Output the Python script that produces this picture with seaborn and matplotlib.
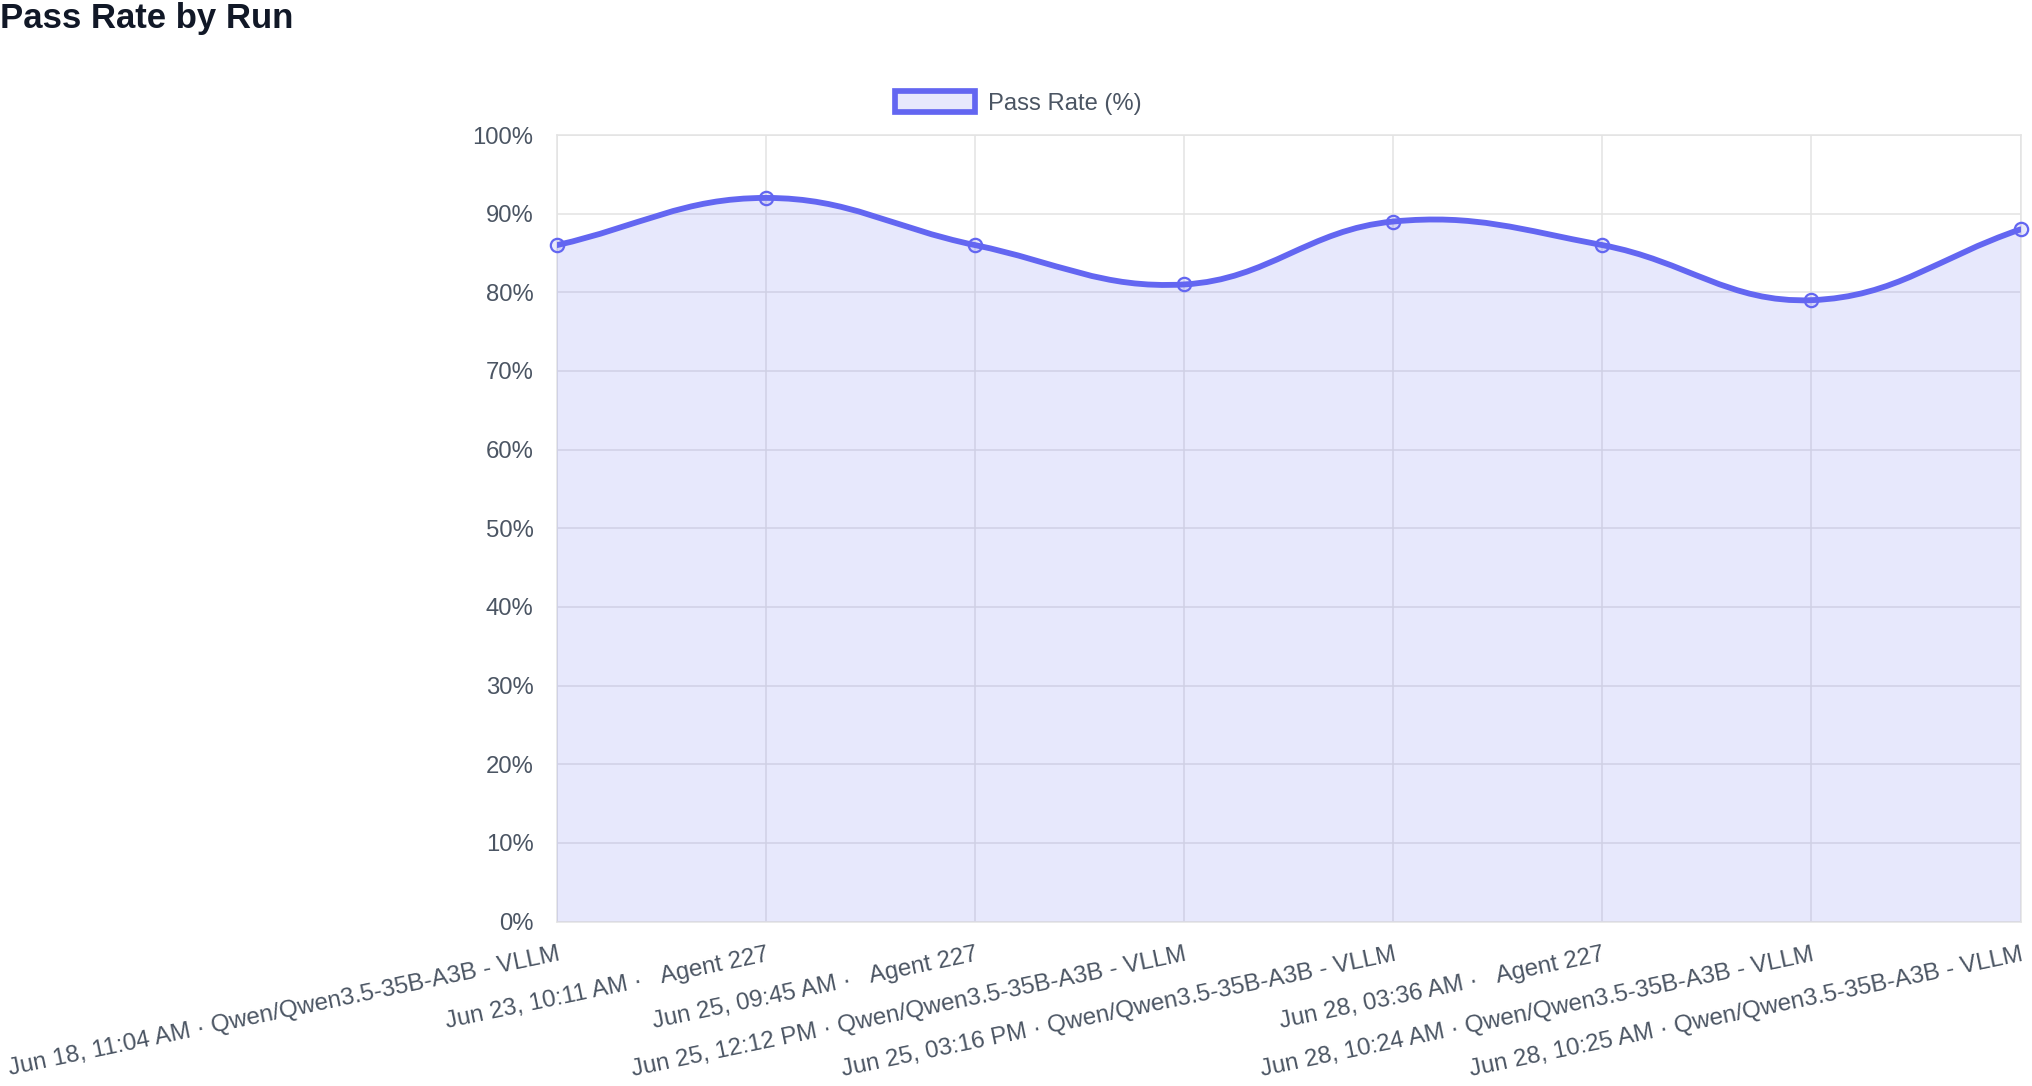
import numpy as np
import pandas as pd
import seaborn as sns
import matplotlib.pyplot as plt
from matplotlib.path import Path
from matplotlib.patches import PathPatch, Patch

# data
runs = [
    "Jun 18, 11:04 AM · Qwen/Qwen3.5-35B-A3B - VLLM",
    "Jun 23, 10:11 AM ·   Agent 227",
    "Jun 25, 09:45 AM ·   Agent 227",
    "Jun 25, 12:12 PM · Qwen/Qwen3.5-35B-A3B - VLLM",
    "Jun 25, 03:16 PM · Qwen/Qwen3.5-35B-A3B - VLLM",
    "Jun 28, 03:36 AM ·   Agent 227",
    "Jun 28, 10:24 AM · Qwen/Qwen3.5-35B-A3B - VLLM",
    "Jun 28, 10:25 AM · Qwen/Qwen3.5-35B-A3B - VLLM",
]
pass_rate = [86, 92, 86, 81, 89, 86, 79, 88]
y_ticks = list(range(0, 101, 10))

LINE = "#6366f1"
FILL = (99 / 255, 102 / 255, 241 / 255, 0.15)
GRID = "#e3e3e3"
TEXT = "#4b5563"
TITLE = "#111827"

sns.set_theme(style="white")
plt.rcParams["font.family"] = ["Liberation Sans", "DejaVu Sans"]

df = pd.DataFrame({"run": runs, "rate": pass_rate})
df["pos"] = np.arange(len(df))

W, H = 2032, 1086
fig = plt.figure(figsize=(W / 100, H / 100), dpi=100)
ax = fig.add_axes([557 / W, (H - 921.5) / H, (2020.5 - 557) / W, (921.5 - 135) / H])
ax.set_xlim(0, len(runs) - 1)
ax.set_ylim(0, 100)

# smooth curve like chart.js (tension 0.4), bezier control points in pixel space
pts = ax.transData.transform(np.column_stack([df["pos"], df["rate"]]).astype(float))
n = len(pts)
ctrl = []
for i in range(n):
    prev = pts[i - 1] if i > 0 else pts[i]
    nxt = pts[i + 1] if i < n - 1 else pts[i]
    d01 = np.hypot(*(pts[i] - prev))
    d12 = np.hypot(*(nxt - pts[i]))
    tot = d01 + d12
    fa = 0.4 * d01 / tot if tot else 0
    fb = 0.4 * d12 / tot if tot else 0
    ctrl.append((pts[i] - fa * (nxt - prev), pts[i] + fb * (nxt - prev)))
verts = [pts[0]]
codes = [Path.MOVETO]
for i in range(1, n):
    verts += [ctrl[i - 1][1], ctrl[i][0], pts[i]]
    codes += [Path.CURVE4] * 3
verts = ax.transData.inverted().transform(np.array(verts))

fill_verts = list(verts) + [(df["pos"].iloc[-1], 0), (df["pos"].iloc[0], 0), verts[0]]
fill_codes = codes + [Path.LINETO, Path.LINETO, Path.CLOSEPOLY]
ax.add_patch(PathPatch(Path(fill_verts, fill_codes), facecolor=FILL, edgecolor="none", zorder=2.7))
ax.add_patch(PathPatch(Path(verts, codes), facecolor="none", edgecolor=LINE, lw=4.2,
                       capstyle="round", joinstyle="round", zorder=3))

sns.scatterplot(data=df, x="pos", y="rate", ax=ax, s=92, color=FILL, edgecolor=LINE,
                linewidth=1.6, zorder=4, clip_on=False, legend=False)

ax.grid(True, color=GRID, linewidth=1.1)
ax.set_axisbelow(True)
for sp in ax.spines.values():
    sp.set_color(GRID)
    sp.set_linewidth(1.1)

ax.set_yticks(y_ticks)
ax.set_yticklabels([f"{v}%" for v in y_ticks])
ax.set_xticks(df["pos"])
ax.set_xticklabels(runs, rotation=11.8, ha="right", va="top", rotation_mode="anchor")
ax.tick_params(axis="both", length=11.5, width=1.1, color=GRID, labelcolor=TEXT)
ax.tick_params(axis="y", pad=5.5, labelsize=17.2)
ax.tick_params(axis="x", pad=4.5, labelsize=17.4)
ax.set_xlabel("")
ax.set_ylabel("")

fig.legend(handles=[Patch(facecolor=FILL, edgecolor=LINE, linewidth=4.1, label="Pass Rate (%)")],
           loc="center left", bbox_to_anchor=(894.5 / W, 1 - 102.8 / H), frameon=False,
           fontsize=17.1, labelcolor=TEXT, handlelength=3.4, handleheight=1.0,
           handletextpad=0.55, borderpad=0, borderaxespad=0)

fig.text(0.0, 1 - 28 / H, "Pass Rate by Run", fontsize=25, fontweight="bold",
         color=TITLE, ha="left", va="baseline")

fig.savefig("out.png", dpi=100)
